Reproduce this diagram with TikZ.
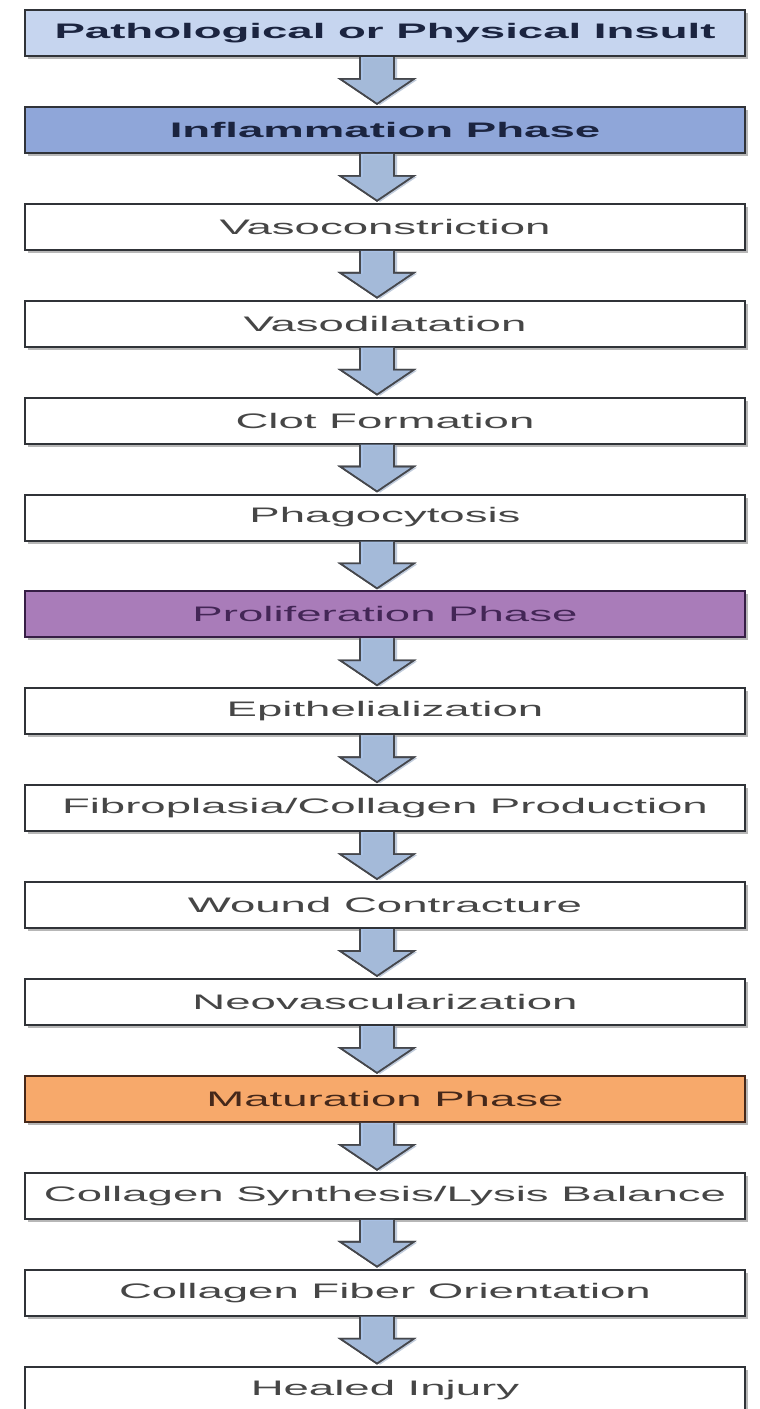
\documentclass[tikz,border=0pt]{standalone}
\usepackage{fontspec}
\setmainfont{Liberation Sans}
\newfontfamily\wideface[FakeStretch=2.17]{Liberation Sans}
\usetikzlibrary{calc,shadows}
\newcommand{\Unit}{0.5pt}
\newcommand{\Pitch}{96.9}
\definecolor{insultfill}{HTML}{C6D5EF}
\definecolor{inflamfill}{HTML}{8FA6D9}
\definecolor{prolfill}{HTML}{A97CB9}
\definecolor{matfill}{HTML}{F7A96B}
\definecolor{arrowfill}{HTML}{A9C2E6}
\definecolor{frame}{HTML}{303338}
\definecolor{navy}{HTML}{1B2440}
\definecolor{grey}{HTML}{464646}
\definecolor{plum}{HTML}{432656}
\definecolor{umber}{HTML}{45281A}

\tikzset{
  plainbox/.style={draw=frame, line width=1pt, fill=white, text=grey,
    minimum width=720*\Unit, minimum height=46*\Unit, inner sep=0pt,
    font=\wideface\fontsize{10.5}{12}\selectfont,
    drop shadow={shadow xshift=1.5pt, shadow yshift=-1.5pt, opacity=0.4, fill=black!70}},
  insultbox/.style={plainbox, fill=insultfill, text=navy, font=\wideface\bfseries\fontsize{10.5}{12}\selectfont},
  inflambox/.style={insultbox, fill=inflamfill},
  prolbox/.style={plainbox, fill=prolfill, draw=plum!80!black, text=plum},
  matbox/.style={plainbox, fill=matfill, draw=umber, text=umber},
  flow/.style={draw=frame!90, line width=0.8pt, fill=arrowfill, line join=miter,
    drop shadow={shadow xshift=1.5pt, shadow yshift=-0.5pt, opacity=0.4, fill=arrowfill!70!gray}}
}

% fat down arrow from the foot of one box to the head of the next
\newcommand{\Flow}[2]{%
  \fill[flow] ($(#1.south)+(-25,0)$) -- ($(#2.north)+(-25,-27)$) -- ($(#2.north)+(-45,-27)$)
    -- ($(#2.north)+(-8,-2)$) -- ($(#2.north)+(29,-27)$) -- ($(#2.north)+(9,-27)$)
    -- ($(#1.south)+(9,0)$);
  \draw[flow, fill=none] ($(#1.south)+(-25,0)$) -- ($(#2.north)+(-25,-27)$) -- ($(#2.north)+(-45,-27)$)
    -- ($(#2.north)+(-8,-2)$) -- ($(#2.north)+(29,-27)$) -- ($(#2.north)+(9,-27)$)
    -- ($(#1.south)+(9,0)$);
}

\begin{document}
\begin{tikzpicture}[x=\Unit, y=-\Unit]
  \useasboundingbox (0,0) rectangle (760,1409);

  % ---- the stages, top to bottom ----------------------------------------
  \foreach \n/\txt/\sty [count=\i from 0] in {
      insult/Pathological or Physical Insult/insultbox,
      inflam/Inflammation Phase/inflambox,
      vasocon/Vasoconstriction/plainbox,
      vasodil/Vasodilatation/plainbox,
      clot/Clot Formation/plainbox,
      phago/Phagocytosis/plainbox,
      prolif/Proliferation Phase/prolbox,
      epith/Epithelialization/plainbox,
      fibro/{Fibroplasia/Collagen Production}/plainbox,
      contract/Wound Contracture/plainbox,
      neovasc/Neovascularization/plainbox,
      matur/Maturation Phase/matbox,
      synth/{Collagen Synthesis/Lysis Balance}/plainbox,
      orient/Collagen Fiber Orientation/plainbox,
      healed/Healed Injury/plainbox} {
    \node[\sty] (\n) at (385, {33+\i*\Pitch}) {\txt};
  }

  % ---- arrows between neighbours ------------------------------------------
  \foreach \a/\b in {insult/inflam, inflam/vasocon, vasocon/vasodil, vasodil/clot,
      clot/phago, phago/prolif, prolif/epith, epith/fibro, fibro/contract,
      contract/neovasc, neovasc/matur, matur/synth, synth/orient, orient/healed} {
    \Flow{\a}{\b}
  }

\end{tikzpicture}
\end{document}
